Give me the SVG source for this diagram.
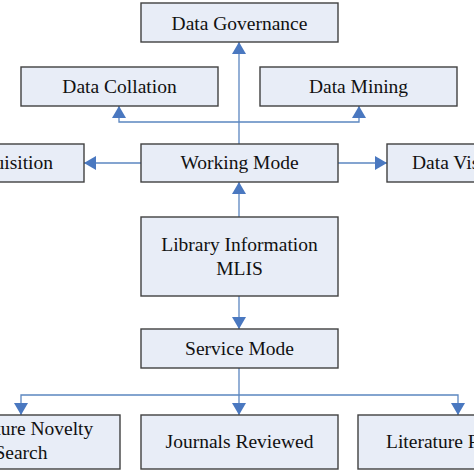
<svg xmlns="http://www.w3.org/2000/svg" width="474" height="474" viewBox="0 0 474 474">
<defs>
<style>
.box{fill:#e8edf7;stroke:#404040;stroke-width:1.4}
.t{font-family:"Liberation Serif","Times New Roman",serif;font-size:19.5px;fill:#111;text-anchor:middle}
.c{fill:none;stroke:#5b86c0;stroke-width:1.3}
</style>
<marker id="ah" viewBox="0 0 12 14" refX="12" refY="7" markerWidth="12" markerHeight="14" orient="auto" markerUnits="userSpaceOnUse">
<path d="M0,0 L12,7 L0,14 Z" fill="#4a78c0"/>
</marker>
</defs>
<rect width="474" height="474" fill="#ffffff"/>
<g id="connectors">
<path class="c" d="M239,144 V42" marker-end="url(#ah)"/>
<path class="c" d="M239,122 H119 V106" marker-end="url(#ah)"/>
<path class="c" d="M239,122 H359 V106" marker-end="url(#ah)"/>
<path class="c" d="M141,163 H84" marker-end="url(#ah)"/>
<path class="c" d="M338,163 H387" marker-end="url(#ah)"/>
<path class="c" d="M239,217 V182" marker-end="url(#ah)"/>
<path class="c" d="M239,296 V329" marker-end="url(#ah)"/>
<path class="c" d="M239,368 V415" marker-end="url(#ah)"/>
<path class="c" d="M239,395 H21 V415" marker-end="url(#ah)"/>
<path class="c" d="M239,395 H458 V415" marker-end="url(#ah)"/>
</g>
<g id="governance"><rect class="box" x="141" y="3" width="197" height="39"/><text class="t" x="239.5" y="29.5">Data Governance</text></g>
<g id="collation"><rect class="box" x="21" y="67" width="197" height="39"/><text class="t" x="119.5" y="92.5">Data Collation</text></g>
<g id="mining"><rect class="box" x="260" y="67" width="197" height="39"/><text class="t" x="358.5" y="92.5">Data Mining</text></g>
<g id="acquisition"><rect class="box" x="-113" y="144" width="197" height="38"/><text class="t" x="53" y="169" style="text-anchor:end">Data Acquisition</text></g>
<g id="working"><rect class="box" x="141" y="144" width="197" height="38"/><text class="t" x="239.5" y="169">Working Mode</text></g>
<g id="visualization"><rect class="box" x="387" y="144" width="197" height="38"/><text class="t" x="412" y="169" style="text-anchor:start">Data Visualization</text></g>
<g id="mlis"><rect class="box" x="141" y="217" width="197" height="79"/><text class="t" x="239.5" y="251">Library Information</text><text class="t" x="239.5" y="275">MLIS</text></g>
<g id="service"><rect class="box" x="141" y="329" width="197" height="39"/><text class="t" x="239.5" y="355">Service Mode</text></g>
<g id="novelty"><rect class="box" x="-78" y="415" width="198" height="54"/><text class="t" x="21" y="435">Literature Novelty</text><text class="t" x="21" y="459">Search</text></g>
<g id="journals"><rect class="box" x="141" y="415" width="197" height="54"/><text class="t" x="239.5" y="448">Journals Reviewed</text></g>
<g id="literature"><rect class="box" x="358" y="415" width="197" height="54"/><text class="t" x="386" y="448" style="text-anchor:start">Literature Retrieval</text></g>
</svg>
